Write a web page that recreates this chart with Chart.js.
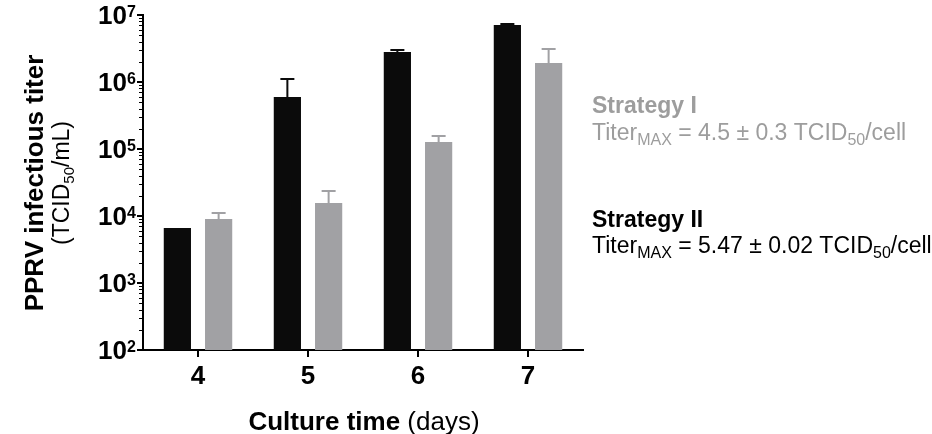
<!DOCTYPE html>
<html>
<head>
<meta charset="utf-8">
<script src="https://cdn.jsdelivr.net/npm/chart.js@4.4.1/dist/chart.umd.min.js"></script>
<style>
  html, body { margin: 0; padding: 0; background: #ffffff; }
  #wrap { width: 932px; height: 434px; position: relative; }
</style>
</head>
<body>
<div id="wrap"><canvas id="c" width="932" height="434"></canvas></div>
<script>
// ---- data ----
const categories = ['4', '5', '6', '7'];               // culture time (days)
const strategyII = [6.6e3, 5.97e5, 2.8e6, 7.1e6];      // black bars
const strategyIIsd = [0, 5.1e5, 2.0e5, 2.5e5];
const strategyI = [9.0e3, 1.56e4, 1.27e5, 1.92e6];     // gray bars
const strategyIsd = [2.1e3, 8.0e3, 2.9e4, 1.19e6];
const yExponents = [2, 3, 4, 5, 6, 7];                 // y tick labels 10^n
const yTitle1 = 'PPRV infectious titer';
const xTitleBold = 'Culture time ';
const xTitleReg = '(days)';

const BLACK = '#0b0b0b';
const GRAY = '#a1a1a4';
const GRAYTXT = '#9d9d9d';

const errBars = {
  id: 'errBars',
  afterDatasetsDraw(chart) {
    const ctx = chart.ctx;
    const ys = chart.scales.y;
    const sets = [[strategyII, strategyIIsd, BLACK], [strategyI, strategyIsd, GRAY]];
    sets.forEach((s, di) => {
      const meta = chart.getDatasetMeta(di);
      meta.data.forEach((bar, i) => {
        if (!s[1][i]) return;
        const x = bar.x;
        const y0 = ys.getPixelForValue(s[0][i]);
        const y1 = ys.getPixelForValue(s[0][i] + s[1][i]);
        ctx.save();
        ctx.strokeStyle = s[2];
        ctx.lineWidth = 2;
        ctx.beginPath();
        ctx.moveTo(x, y0);
        ctx.lineTo(x, y1);
        ctx.moveTo(x - 7, y1);
        ctx.lineTo(x + 7, y1);
        ctx.stroke();
        ctx.restore();
      });
    });
  }
};

function drawRich(ctx, parts, x, y) {
  let cx = x;
  parts.forEach(p => {
    ctx.font = p[1];
    ctx.fillText(p[0], cx, y + (p[2] || 0));
    cx += ctx.measureText(p[0]).width;
  });
  return cx;
}
function richWidth(ctx, parts) {
  let w = 0;
  parts.forEach(p => { ctx.font = p[1]; w += ctx.measureText(p[0]).width; });
  return w;
}

const FONT = '"Liberation Sans", Arial, Helvetica, sans-serif';

const textPlugin = {
  id: 'texts',
  afterDraw(chart) {
    const ctx = chart.ctx;
    const ys = chart.scales.y;
    ctx.save();
    ctx.fillStyle = '#000';
    ctx.textBaseline = 'alphabetic';
    // minor y ticks
    ctx.strokeStyle = '#000';
    ctx.lineWidth = 1;
    for (let e = yExponents[0]; e < yExponents[yExponents.length - 1]; e++) {
      for (let m = 2; m <= 9; m++) {
        const py = Math.round(ys.getPixelForValue(m * Math.pow(10, e))) + 0.5;
        ctx.beginPath();
        ctx.moveTo(ys.right - 4, py);
        ctx.lineTo(ys.right, py);
        ctx.stroke();
      }
    }
    // y tick labels 10^n
    yExponents.forEach(e => {
      const py = ys.getPixelForValue(Math.pow(10, e));
      ctx.textAlign = 'right';
      ctx.font = 'bold 26px ' + FONT;
      ctx.fillText('10', 127, py + 9);
      ctx.textAlign = 'left';
      ctx.font = 'bold 16px ' + FONT;
      ctx.fillText(String(e), 127, py + 2);
    });
    // y title
    ctx.save();
    ctx.translate(43, 183);
    ctx.rotate(-Math.PI / 2);
    ctx.textAlign = 'center';
    ctx.font = 'bold 26px ' + FONT;
    ctx.fillText(yTitle1, 0, 0);
    ctx.textAlign = 'left';
    const l2 = [['(TCID', '23px ' + FONT, 0], ['50', '15px ' + FONT, 5], ['/mL)', '23px ' + FONT, 0]];
    const w2 = richWidth(ctx, l2);
    drawRich(ctx, l2, -w2 / 2, 26);
    ctx.restore();
    // x title
    ctx.textAlign = 'left';
    const xt = [[xTitleBold, 'bold 26px ' + FONT, 0], [xTitleReg, '26px ' + FONT, 0]];
    const wx = richWidth(ctx, xt);
    drawRich(ctx, xt, 364 - wx / 2, 430);
    // annotations
    ctx.fillStyle = GRAYTXT;
    ctx.font = 'bold 23px ' + FONT;
    ctx.fillText('Strategy I', 592, 113);
    drawRich(ctx, [['Titer', '23px ' + FONT, 0], ['MAX', '16px ' + FONT, 5],
      [' = 4.5 \u00b1 0.3 TCID', '23px ' + FONT, 0], ['50', '16px ' + FONT, 5], ['/cell', '23px ' + FONT, 0]], 592, 140);
    ctx.fillStyle = '#000';
    ctx.font = 'bold 23px ' + FONT;
    ctx.fillText('Strategy II', 592, 227);
    drawRich(ctx, [['Titer', '23px ' + FONT, 0], ['MAX', '16px ' + FONT, 5],
      [' = 5.47 \u00b1 0.02 TCID', '23px ' + FONT, 0], ['50', '16px ' + FONT, 5], ['/cell', '23px ' + FONT, 0]], 592, 253);
    ctx.restore();
  }
};

new Chart(document.getElementById('c'), {
  type: 'bar',
  data: {
    labels: categories,
    datasets: [
      { label: 'Strategy II', data: strategyII, backgroundColor: BLACK, borderWidth: 0,
        categoryPercentage: 0.75, barPercentage: 0.66 },
      { label: 'Strategy I', data: strategyI, backgroundColor: GRAY, borderWidth: 0,
        categoryPercentage: 0.75, barPercentage: 0.66 }
    ]
  },
  options: {
    responsive: false,
    animation: false,
    layout: { padding: { top: 15, right: 349, left: 0, bottom: 0 } },
    plugins: { legend: { display: false }, tooltip: { enabled: false } },
    scales: {
      x: {
        type: 'category',
        grid: { display: true, drawOnChartArea: false, drawTicks: true, tickLength: 7, offset: false, color: '#000', lineWidth: 2 },
        border: { display: true, color: '#000', width: 2 },
        ticks: { color: '#000', font: { family: FONT, size: 26, weight: 'bold' }, padding: 4, maxRotation: 0 },
        afterFit(s) { s.height = 84; }
      },
      y: {
        type: 'logarithmic',
        min: 100,
        max: 1e7,
        afterBuildTicks(s) { s.ticks = yExponents.map(e => ({ value: Math.pow(10, e), major: true })); },
        grid: { display: true, drawOnChartArea: false, drawTicks: true, tickLength: 6, color: '#000', lineWidth: 2 },
        border: { display: true, color: '#000', width: 2 },
        ticks: { display: false },
        afterFit(s) { s.width = 143; }
      }
    }
  },
  plugins: [errBars, textPlugin]
});
</script>
</body>
</html>
